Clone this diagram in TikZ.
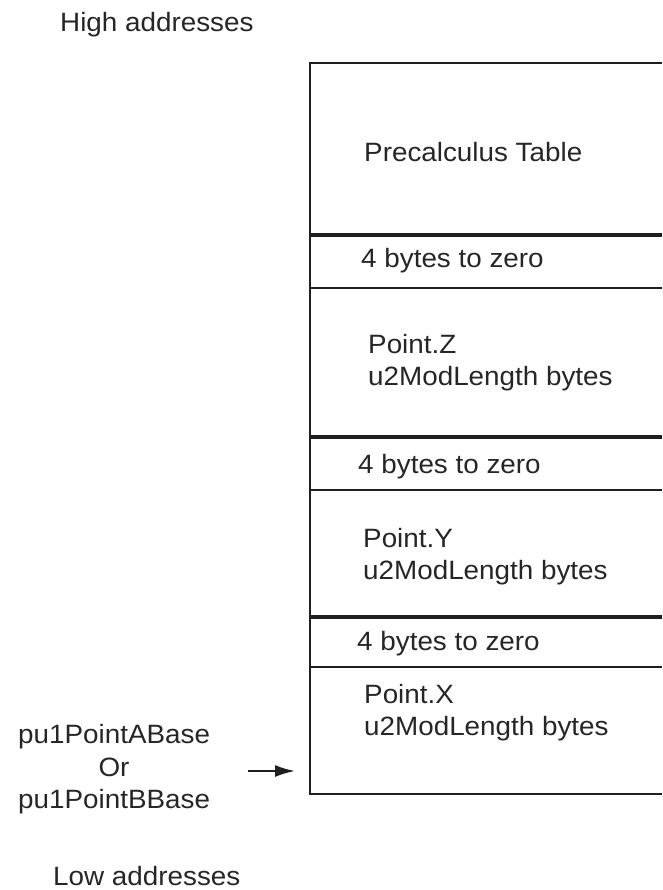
\documentclass[tikz,border=0pt]{standalone}
\usepackage{fontspec}
\setmainfont{Liberation Sans}[FakeStretch=1.05]
\usetikzlibrary{arrows.meta}

\begin{document}
\begin{tikzpicture}[x=1pt,y=-1pt,
  memline/.style={line width=2pt,draw=black!88},
  seamline/.style={line width=4.5pt,draw=black!88},
  memtext/.style={anchor=base west,inner sep=0pt,text=black!85,
                  font=\fontsize{26.5}{32}\selectfont}]
\useasboundingbox (0,0) rectangle (662,890);
% ---- outer frame (right side runs off the page) ----
\draw[memline] (662,63) -- (310,63) -- (310,794) -- (662,794);
% ---- seams between fields ----
\foreach \y in {235,437,617} \draw[seamline] (309,\y) -- (662,\y);
\foreach \y in {288,490,667} \draw[memline] (310,\y) -- (662,\y);
% ---- field labels ----
\node[memtext] (table) at (364,162) {Precalculus Table};
\foreach \n/\x/\y in {padz/361/267, pady/358/473, padx/357/650}
  \node[memtext] (\n) at (\x,\y) {4 bytes to zero};
\foreach \n/\x/\y/\s in {z/368/353/Z, y/363/547/Y, x/364/703/X}{
  \node[memtext] (\n name) at (\x,\y) {Point.\s};
  \node[memtext] (\n size) at (\x,\y+32) {u2ModLength bytes};
}
% ---- address direction ----
\node[memtext] (high) at (60,32) {High addresses};
\node[memtext] (low) at (53,885) {Low addresses};
% ---- base pointer ----
\node[memtext] (basea) at (18,743) {pu1PointABase};
\node[memtext,anchor=base] (baseor) at (114,776) {Or};
\node[memtext] (baseb) at (18,808) {pu1PointBBase};
\coordinate (ptrtail) at (248,771);
\coordinate (ptrtip) at (295,771);
\draw[line width=2pt,draw=black!88,-{Latex[length=20pt,width=12pt]}] (ptrtail) -- (ptrtip);
\end{tikzpicture}
\end{document}
